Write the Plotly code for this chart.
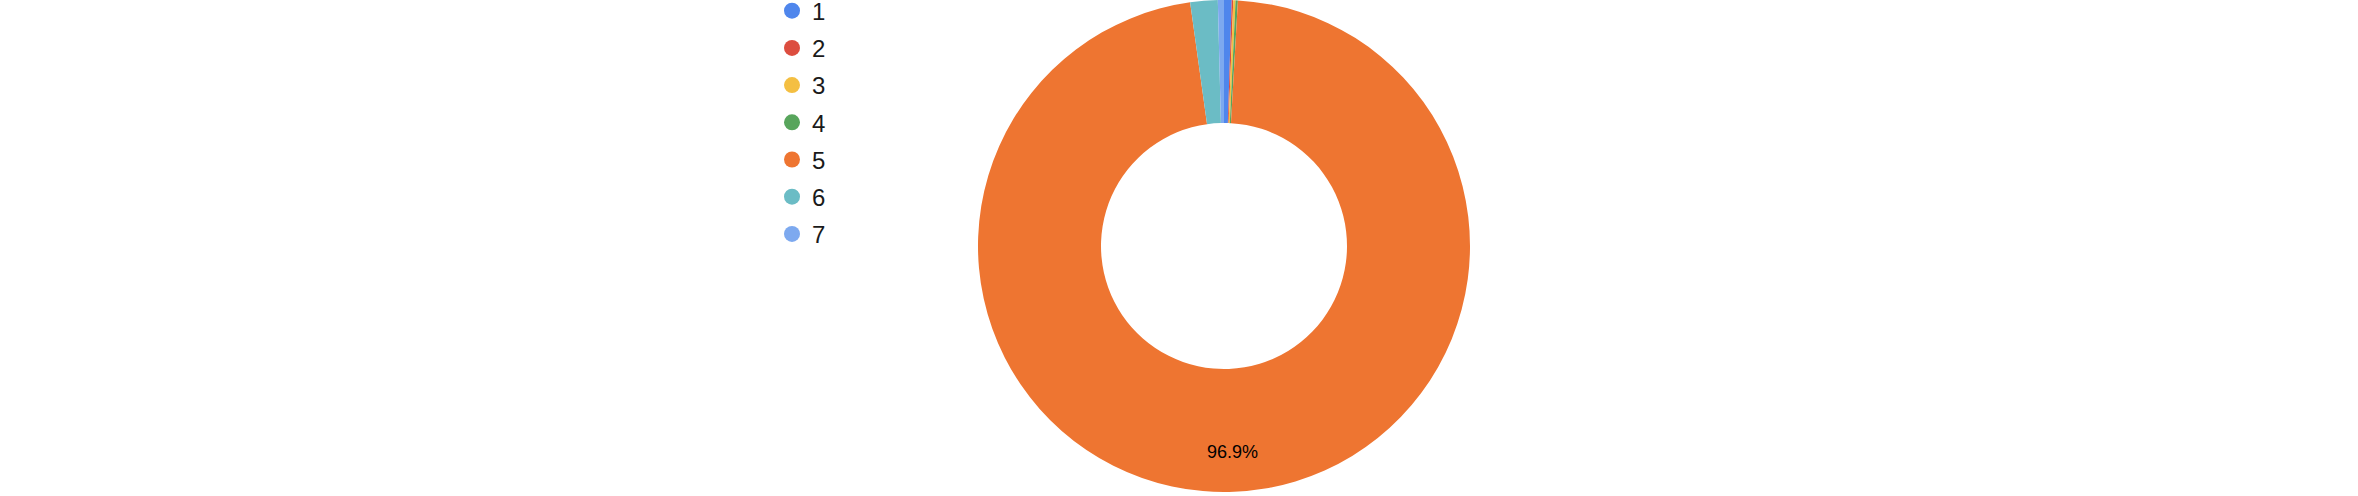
import math
import plotly.graph_objects as go

labels = ["1", "2", "3", "4", "5", "6", "7"]
values = [0.5, 0.1, 0.15, 0.15, 96.9, 1.8, 0.4]
colors = ["#4f86ec", "#dc4d3f", "#f4bf42", "#58a55c", "#ee7531", "#6bbcc5", "#7da9ef"]
shown_label = "5"

W, H = 2358, 496
cx, cy, r = 1224, 246, 246

fig = go.Figure()
fig.add_trace(go.Pie(
    labels=labels, values=values, sort=False, direction="clockwise", rotation=0,
    hole=0.5, marker=dict(colors=colors, line=dict(width=0)),
    textinfo="none", showlegend=False, hoverinfo="label+percent",
    domain=dict(x=[(cx - r) / W, (cx + r) / W], y=[1 - (cy + r) / H, 1 - (cy - r) / H]),
))
for lab, col in zip(labels, colors):
    fig.add_trace(go.Scatter(
        x=[None], y=[None], mode="markers", name=lab, legendgroup=lab,
        marker=dict(color=col, size=16, symbol="circle"),
    ))

# percentage label for the large slice, placed at its mid-angle
total = sum(values)
i = labels.index(shown_label)
before = sum(values[:i])
mid = (before + values[i] / 2) / total * 2 * math.pi
lr = r * 0.84
lx = cx + lr * math.sin(mid)
ly = cy - lr * math.cos(mid)
fig.add_annotation(x=lx / W, y=1 - ly / H, xref="paper", yref="paper",
                   xanchor="center", yanchor="middle",
                   text=f"{values[i] / total * 100:.1f}%", showarrow=False,
                   font=dict(size=18, color="black"))

fig.update_layout(
    width=W, height=H, margin=dict(l=0, r=0, t=0, b=0, autoexpand=False),
    paper_bgcolor="white", plot_bgcolor="white",
    font=dict(family="Liberation Sans, Arial, sans-serif", size=24, color="#1a1a1a"),
    xaxis=dict(visible=False), yaxis=dict(visible=False),
    legend=dict(x=772 / W, y=1.023, xanchor="left", yanchor="top",
                maxheight=600,
                tracegroupgap=3, font=dict(size=24), bgcolor="rgba(0,0,0,0)"),
)
fig.write_html("out.html", config={"displayModeBar": False},
               post_script="document.body.style.margin='0';")
